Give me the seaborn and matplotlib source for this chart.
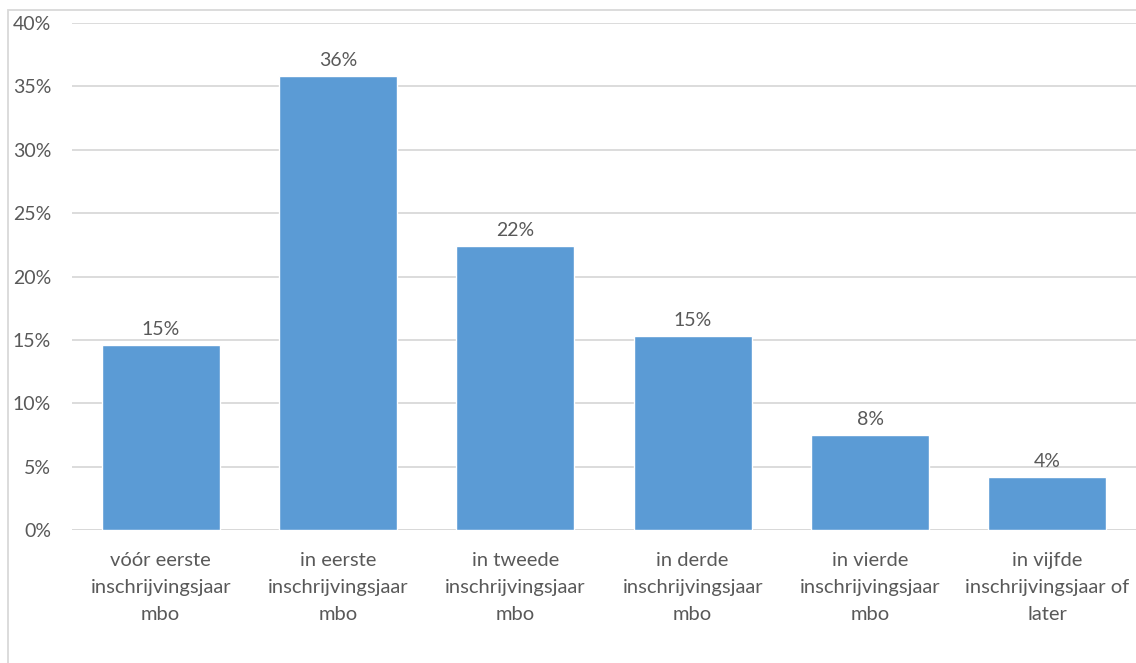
import pandas as pd
import matplotlib.pyplot as plt
import seaborn as sns
from matplotlib.patches import Rectangle
from matplotlib.ticker import PercentFormatter

# data
categories = ['vóór eerste\ninschrijvingsjaar\nmbo',
              'in eerste\ninschrijvingsjaar\nmbo',
              'in tweede\ninschrijvingsjaar\nmbo',
              'in derde\ninschrijvingsjaar\nmbo',
              'in vierde\ninschrijvingsjaar\nmbo',
              'in vijfde\ninschrijvingsjaar of\nlater']
shares = [14.6, 35.8, 22.4, 15.3, 7.5, 4.2]
value_labels = ['15%', '36%', '22%', '15%', '8%', '4%']

df = pd.DataFrame({'categorie': categories, 'aandeel': shares})

sns.set_style('white')
plt.rcParams['font.family'] = ['Lato', 'DejaVu Sans']
text_col = '#595959'

fig = plt.figure(figsize=(11.36, 6.63), dpi=100)
ax = fig.add_axes([0.0634, 0.2006, 0.9366, 0.7647])

sns.barplot(data=df, x='categorie', y='aandeel', color='#5B9BD5',
            saturation=1, width=0.667, ax=ax)

for bar, lab in zip(ax.patches, value_labels):
    ax.annotate(lab, (bar.get_x() + bar.get_width() / 2, bar.get_height()),
                xytext=(0, 5), textcoords='offset points',
                ha='center', va='bottom', fontsize=14, color=text_col)

ax.set_ylim(0, 40)
ax.set_yticks(range(0, 41, 5))
ax.yaxis.set_major_formatter(PercentFormatter(decimals=0))
ax.grid(axis='y', color='#D9D9D9', linewidth=1.3)
ax.set_axisbelow(True)
for s in ax.spines.values():
    s.set_visible(False)
ax.axhline(0, color='#D9D9D9', linewidth=1.3, zorder=0)
ax.set_xlabel('')
ax.set_ylabel('')
ax.set_xticks(range(len(categories)))
ax.set_xticklabels(categories, linespacing=1.7)
ax.tick_params(axis='y', labelsize=14, labelcolor=text_col, length=0, pad=15)
ax.tick_params(axis='x', labelsize=14.5, labelcolor=text_col, length=0, pad=16)

# chart border like the spreadsheet chart area
fig.patches.append(Rectangle((8 / 1136, -0.1), 1.2, 1 - 10 / 663 + 0.1,
                             transform=fig.transFigure, fill=False,
                             edgecolor='#D9D9D9', linewidth=1.3))

fig.savefig('out.png', dpi=100)
